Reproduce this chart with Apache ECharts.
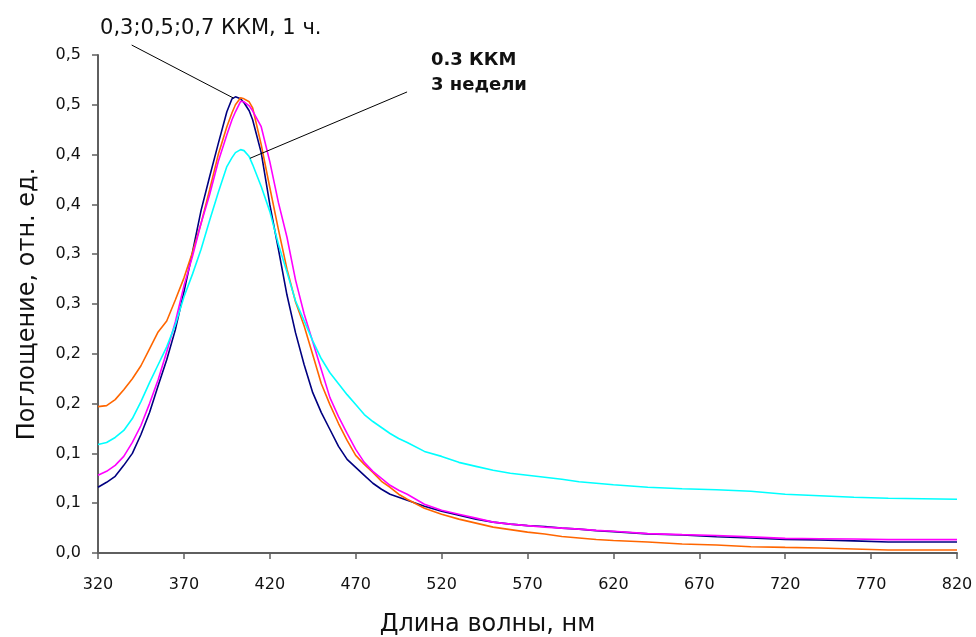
<!DOCTYPE html>
<html>
<head>
<meta charset="utf-8">
<script src="https://cdn.jsdelivr.net/npm/echarts@6/dist/echarts.min.js"></script>
<style>
  html, body { margin: 0; padding: 0; background: #fff; }
  #chart { width: 976px; height: 637px; }
</style>
</head>
<body>
<div id="chart"></div>
<script>
// Absorption spectra (wavelength, nm -> absorbance, rel. units)
const wavelength = [320,325,330,335,340,345,350,355,360,365,370,375,380,385,390,395,398,400,403,
  405,408,410,415,420,425,430,435,440,445,450,455,460,465,470,475,480,485,490,495,500,
  510,520,530,540,550,560,570,580,590,600,610,620,
  640,660,680,700,720,740,760,780,800,820];

const absNavy = [0.066,0.071,0.077,0.088,0.100,0.119,0.141,0.168,0.194,0.224,0.262,0.302,0.344,0.378,0.411,0.443,0.456,0.458,0.456,
  0.452,0.444,0.435,0.402,0.350,0.305,0.259,0.221,0.189,0.161,0.141,0.124,0.107,0.094,0.086,0.078,0.070,0.064,0.059,0.056,0.053,
  0.047,0.042,0.038,0.034,0.031,0.029,0.0275,0.0266,0.025,0.024,0.0225,0.0215,
  0.0192,0.018,0.0163,0.015,0.0137,0.013,0.0122,0.011,0.011,0.011];

const absOrange = [0.147,0.148,0.154,0.164,0.175,0.188,0.205,0.222,0.233,0.254,0.276,0.302,0.331,0.365,0.400,0.428,0.442,0.450,0.457,
  0.456,0.453,0.447,0.410,0.367,0.325,0.285,0.252,0.228,0.199,0.170,0.149,0.130,0.113,0.098,0.089,0.081,0.072,0.066,0.059,0.054,
  0.045,0.039,0.034,0.030,0.026,0.0235,0.021,0.019,0.0165,0.015,0.0135,0.0125,
  0.011,0.009,0.008,0.0063,0.0056,0.005,0.004,0.003,0.003,0.003];

const absMagenta = [0.078,0.082,0.088,0.097,0.111,0.128,0.150,0.174,0.202,0.232,0.268,0.298,0.331,0.360,0.393,0.420,0.435,0.443,0.4535,
  0.453,0.449,0.444,0.428,0.393,0.352,0.317,0.274,0.240,0.212,0.184,0.156,0.137,0.120,0.104,0.091,0.082,0.075,0.068,0.063,0.059,
  0.049,0.043,0.039,0.035,0.031,0.029,0.0275,0.026,0.025,0.024,0.0227,0.0218,
  0.0195,0.0184,0.0175,0.0162,0.0147,0.0143,0.014,0.0134,0.0134,0.0134];

const absCyan = [0.109,0.111,0.116,0.123,0.135,0.152,0.171,0.189,0.207,0.229,0.257,0.280,0.305,0.334,0.362,0.388,0.397,0.402,0.405,
  0.404,0.398,0.390,0.368,0.343,0.310,0.282,0.253,0.233,0.213,0.195,0.181,0.170,0.159,0.149,0.139,0.132,0.126,0.120,0.115,0.111,
  0.102,0.097,0.091,0.087,0.083,0.080,0.078,0.076,0.074,0.0715,0.070,0.0685,
  0.066,0.0645,0.0635,0.062,0.059,0.0575,0.056,0.055,0.0545,0.054];

const seriesNames = ['0,3 ККМ, 1 ч.', '0,5 ККМ, 1 ч.', '0,7 ККМ, 1 ч.', '0,3 ККМ, 3 недели'];
const seriesColors = ['#000080', '#FF6600', '#FF00FF', '#00FFFF'];
const seriesValues = [absNavy, absOrange, absMagenta, absCyan];

// Callout texts and their leader lines, in data units (nm, absorbance)
const callout1Text = '0,3;0,5;0,7 ККМ, 1 ч.';
const callout1Pos = [321.2, 0.527];
const callout1Line = [[339.6, 0.510], [398.8, 0.4568]];
const callout2Text = ['0.3 ККМ', '3 недели'];
const callout2Pos = [513.8, 0.507];
const callout2Line = [[499.9, 0.4629], [408.5, 0.3963]];

const FONT = '"DejaVu Sans", "Liberation Sans", sans-serif';
const AXIS_COLOR = '#5f5f5f';

function pairs(ys) { return wavelength.map((x, i) => [x, ys[i]]); }
function fmtY(v) { return (Math.round(v * 10 + 1e-9) / 10).toFixed(1).replace('.', ','); }

const chart = echarts.init(document.getElementById('chart'), null, { renderer: 'canvas' });

chart.setOption({
  animation: false,
  backgroundColor: '#ffffff',
  grid: { left: 98, right: 19, top: 55, bottom: 84, outerBoundsMode: 'none', containLabel: false },
  xAxis: {
    type: 'value', min: 320, max: 820, interval: 50,
    name: 'Длина волны, нм', nameLocation: 'middle', nameGap: 60,
    nameTextStyle: { fontSize: 24, color: '#111', fontFamily: FONT, padding: [0, 80, 0, 0] },
    axisLine: { show: true, onZero: false, lineStyle: { color: AXIS_COLOR, width: 2 } },
    axisTick: { show: true, length: 6, lineStyle: { color: AXIS_COLOR, width: 1.5 } },
    axisLabel: { fontSize: 16, color: '#111', margin: 24, fontFamily: FONT },
    splitLine: { show: false }
  },
  yAxis: {
    type: 'value', min: 0, max: 0.5, interval: 0.05,
    name: 'Поглощение, отн. ед.', nameLocation: 'middle', nameGap: 58, nameRotate: 90,
    nameTextStyle: { fontSize: 24, color: '#111', fontFamily: FONT },
    axisLine: { show: true, lineStyle: { color: AXIS_COLOR, width: 2 } },
    axisTick: { show: true, length: 6, lineStyle: { color: AXIS_COLOR, width: 1.5 } },
    axisLabel: { fontSize: 16, color: '#111', margin: 17, fontFamily: FONT, formatter: fmtY },
    splitLine: { show: false }
  },
  series: seriesValues.map((ys, i) => ({
    name: seriesNames[i],
    type: 'line',
    data: pairs(ys),
    showSymbol: false,
    smooth: false,
    lineStyle: { color: seriesColors[i], width: 1.6 },
    z: 2 + i
  }))
});

// Callouts placed through the axis scales
const px = p => chart.convertToPixel({ gridIndex: 0 }, p);
const a1 = px(callout1Pos), a2 = px(callout2Pos);
const l1 = callout1Line.map(px), l2 = callout2Line.map(px);

chart.setOption({
  graphic: [
    { type: 'line', shape: { x1: l1[0][0], y1: l1[0][1], x2: l1[1][0], y2: l1[1][1] },
      style: { stroke: '#000', lineWidth: 1 }, z: 10 },
    { type: 'line', shape: { x1: l2[0][0], y1: l2[0][1], x2: l2[1][0], y2: l2[1][1] },
      style: { stroke: '#000', lineWidth: 1 }, z: 10 },
    { type: 'text', x: a1[0], y: a1[1],
      style: { text: callout1Text, fontSize: 21, fontFamily: FONT, fill: '#111',
               textAlign: 'left', textVerticalAlign: 'middle' }, z: 10 },
    { type: 'text', x: a2[0], y: a2[1],
      style: { text: callout2Text.join('\n'), fontSize: 18, fontWeight: 'bold', fontFamily: FONT,
               fill: '#111', lineHeight: 25, textAlign: 'left', textVerticalAlign: 'top' }, z: 10 }
  ]
});
</script>
</body>
</html>
